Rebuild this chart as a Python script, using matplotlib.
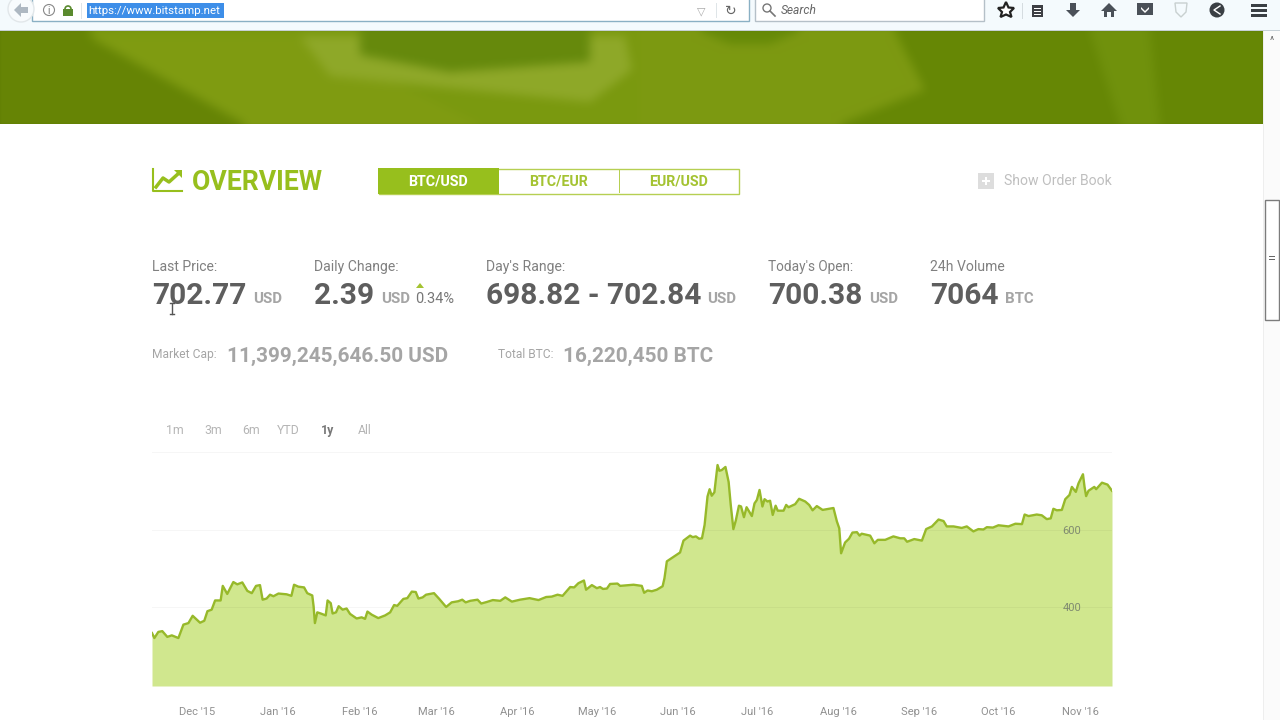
import matplotlib
matplotlib.use('Agg')
import matplotlib.pyplot as plt
import numpy as np
from matplotlib.patches import Rectangle, Polygon, Circle
from matplotlib.path import Path

plt.rcParams['font.family'] = ['Roboto', 'DejaVu Sans']

# days since the left edge of the chart, price in USD
days = [0, 0.9, 2.4, 3.9, 5.8, 7.5, 10, 11.9, 13.8, 15.4, 18.2, 19.8, 21, 22.6, 23.9, 26, 26.8, 28.5,
        30.8, 32.3, 34.2, 36.1, 37.8, 39.4, 40.9, 41.9, 43.4, 44.7, 46, 47.9, 51, 52.8, 53.8, 55.4,
        57.6, 58.8, 60.7, 61.2, 61.7, 62.6, 63.9, 65.8, 66.5, 67.7, 68.4, 69.7, 70.7, 72.2, 73.7, 75,
        77.5, 79.4, 80.7, 81.6, 83.2, 85.7, 88.3, 90.2, 91.7, 92.9, 95.2, 96.7, 98.4, 99.9, 100.9,
        102.5, 103.8, 106.8, 108.8, 111.4, 113.5, 116, 117.5, 118.8, 120.5, 123.3, 124.7, 126.8,
        129.1, 131.9, 133.8, 136.3, 139.4, 143, 146.4, 149.3, 151.4, 153.6, 155.5, 158.4, 159.9,
        161.5, 163.6, 164.4, 166.6, 168.5, 169.7, 170.8, 172.3, 173.5, 176.3, 177.3, 182.4, 185.5,
        186.4, 187.7, 189.3, 191.2, 193.4, 194.1, 195, 196.3, 198.2, 200, 201.3, 203.8, 204.8, 206,
        207.2, 208.3, 209.3, 210.4, 211.2, 212, 213, 214.2, 214.9, 215.8, 217.2, 218.4, 219.2, 220.2,
        221.1, 222.3, 223.1, 224.2, 225.2, 227.2, 228.2, 229.1, 230.1, 231.2, 232, 233.1, 234.1,
        235.1, 236.2, 237, 239.2, 240.2, 241.1, 243.6, 245.1, 247.4, 248.9, 250.2, 251.8, 254, 258.1,
        259.4, 260.3, 261, 262.5, 264, 265.3, 267, 268, 268.8, 272, 273.6, 274.9, 277.7, 280.8, 283.4,
        284.9, 286, 288.7, 291.6, 293.2, 295.4, 297.9, 299.8, 301, 303.6, 306.7, 308.6, 311.1, 313,
        314.9, 316.2, 318.5, 320.6, 324.4, 327, 329.5, 330.5, 332, 335.1, 337, 338.9, 340.4, 341.4,
        342.7, 344.6, 345.9, 347.5, 348.4, 349.9, 350.9, 352.6, 353.2, 353.8, 354.7, 356.9, 357.6,
        359.8, 361.9, 363.6]
prices = [332, 319, 335, 337, 322, 326, 319, 354, 358, 377, 359, 364, 389, 393, 417, 417, 455, 434,
          465, 459, 464, 442, 436, 455, 457, 419, 422, 432, 428, 435, 433, 429, 458, 453,
          451, 436, 430, 402, 358, 386, 383, 378, 417, 410, 383, 386, 402, 393, 396, 382,
          370, 373, 369, 388, 380, 371, 378, 386, 405, 403, 421, 423, 440, 439, 422,
          425, 432, 436, 421, 400, 412, 415, 419, 412, 416, 419, 409, 413,
          418, 416, 425, 414, 419, 423, 418, 426, 427, 432, 429, 452, 451,
          462, 469, 445, 457, 449, 452, 447, 448, 460, 461, 455, 458, 455,
          437, 443, 441, 445, 454, 475, 519, 525, 534, 542, 573, 586, 582, 584,
          578, 579, 614, 688, 707, 690, 699, 770, 755, 757, 765, 726, 666, 603,
          625, 664, 662, 634, 660, 637, 670, 679, 705, 662, 681, 675, 677,
          640, 664, 651, 651, 666, 660, 668, 682, 675, 666, 652, 663, 653, 658,
          623, 605, 540, 568, 578, 594, 595, 586, 591, 586, 566, 575, 575, 584, 579,
          579, 570, 577, 573, 603, 610, 628, 624, 610, 610, 606, 610, 597, 603,
          602, 608, 607, 613, 610, 617, 616, 641, 637, 641, 639, 629, 631, 656,
          652, 653, 681, 692, 713, 700, 722, 746, 713, 689, 703, 713, 707,
          724, 719, 703]
month_days = [17, 47.7, 78.8, 107.6, 138.3, 168.6, 199, 229.2, 260, 290.5, 320.5, 351.5]
month_labels = ["Dec '15", "Jan '16", "Feb '16", "Mar '16", "Apr '16", "May '16", "Jun '16", "Jul '16",
                "Aug '16", "Sep '16", "Oct '16", "Nov '16"]
price_ticks = [400, 600, 804]
price_tick_labels = ['400', '600', '']
ranges = ['1m', '3m', '6m', 'YTD', '1y', 'All']
range_x = [175, 213, 251, 288, 328, 365]
pairs = ['BTC/USD', 'BTC/EUR', 'EUR/USD']
pair_x = [438, 559, 679]

# blurred photo behind the banner: outline in page pixels, then colour
banner_shapes = [
    ([(0, 31), (88, 31), (245, 124), (0, 124)], (0.40, 0.52, 0.02)),
    ([(88, 36), (300, 36), (480, 124), (245, 124)], (0.50, 0.61, 0.07)),
    ([(300, 36), (625, 36), (632, 70), (590, 102), (330, 76)], (0.56, 0.66, 0.16)),
    ([(360, 31), (590, 31), (590, 62), (450, 72), (360, 55)], (0.40, 0.54, 0.05)),
    ([(640, 31), (890, 31), (925, 90), (840, 124), (640, 124)], (0.49, 0.60, 0.07)),
    ([(700, 31), (800, 31), (770, 44), (730, 44)], (0.40, 0.54, 0.03)),
    ([(895, 31), (1263, 31), (1263, 124), (840, 124), (925, 90)], (0.40, 0.53, 0.02)),
    ([(1090, 31), (1150, 31), (1160, 124), (1120, 124)], (0.44, 0.57, 0.05)),
]

GREEN = '#97bf1d'
fig = plt.figure(figsize=(12.8, 7.2), dpi=100)

# the page around the chart, in screen pixels
page = fig.add_axes([0, 0, 1, 1], zorder=1)


def banner_image():
    yy, xx = np.mgrid[31:124, 0:1263]
    pts = np.column_stack([xx.ravel() + 0.5, yy.ravel() + 0.5])
    img = np.ones((93, 1263, 3)) * (0.48, 0.60, 0.06)
    for outline, colour in banner_shapes:
        img[Path(outline).contains_points(pts).reshape(93, 1263)] = colour
    # box blur along both directions
    kernel = np.ones(11) / 11
    pad = np.pad(img, ((8, 8), (8, 8), (0, 0)), mode='edge')
    for _ in range(2):
        pad = np.apply_along_axis(lambda v: np.convolve(v, kernel, mode='same'), 1, pad)
        pad = np.apply_along_axis(lambda v: np.convolve(v, kernel, mode='same'), 0, pad)
    return pad[8:-8, 8:-8]


page.imshow(banner_image(), extent=(0, 1263, 124, 31), aspect='auto', zorder=0)
page.set_xlim(0, 1280)
page.set_ylim(720, 0)
page.axis('off')


def box(x, y, w, h, fc, ec='none', lw=0, z=1):
    page.add_patch(Rectangle((x, y), w, h, fc=fc, ec=ec, lw=lw, zorder=z))


def poly(points, fc, ec='none', lw=0, z=3):
    page.add_patch(Polygon(points, fc=fc, ec=ec, lw=lw, zorder=z))


def label(x, y, s, size, color, weight='normal', ha='left', style='normal'):
    page.text(x, y, s, fontsize=size * 0.72, color=color, fontweight=weight, ha=ha, va='baseline',
              fontstyle=style, zorder=5)


# browser bar
box(0, 0, 1280, 31, '#f4fafd')
box(0, 30, 1280, 1, '#c6d0d6')
box(32, -2, 717, 23, 'white', '#8ab0c4', 1)
page.add_patch(Circle((21, 9), 13, fc='#f8fbfd', ec='#e2e7ea', lw=1, zorder=2))
poly([(14, 10), (21, 3), (21, 7), (28, 7), (28, 13), (21, 13), (21, 17)], '#aeb8c2')
page.add_patch(Circle((49, 10), 5.5, fc='none', ec='#888888', lw=0.8, zorder=3))
label(49, 14, 'i', 10, '#777777', ha='center')
box(63, 9, 10, 7, '#5a8a2e', z=2)
page.add_patch(Circle((68, 9), 3, fc='none', ec='#5a8a2e', lw=1.2, zorder=2))
box(81, 3, 1, 16, '#dfe5e8', z=2)
box(87, 3, 137, 15, '#3d8ee8', z=2)
label(88, 14, 'https://www.bitstamp.net', 11.5, 'white')
label(701, 14, '\u25bd', 11, '#a8a8a8', ha='center')
box(716, 3, 1, 15, '#dfe5e8', z=2)
label(731, 15, '\u21bb', 14, '#666666', ha='center')
box(755, -2, 229, 23, 'white', '#b5c0c8', 1)
page.add_patch(Circle((767, 8), 4, fc='none', ec='#777777', lw=1, zorder=3))
page.plot([770, 775], [11, 16], color='#777777', lw=1.2, zorder=3)
label(781, 14, 'Search', 12, '#666666', style='italic')
poly([(1006, 2), (1008.5, 7.5), (1014, 8), (1010, 12), (1011.5, 17), (1006, 14.5), (1000.5, 17), (1002, 12),
      (998, 8), (1003.5, 7.5)], 'white', '#222222', 1.6)
box(1022, 3, 1, 16, '#d5dce0', z=2)
box(1032, 5, 11, 12, '#3d3f44', z=2)
box(1034, 8, 7, 1, 'white', z=3)
box(1034, 11, 7, 1, 'white', z=3)
box(1034, 14, 7, 1, 'white', z=3)
poly([(1070, 3), (1076, 3), (1076, 10), (1080, 10), (1073, 17), (1066, 10), (1070, 10)], '#4a5058')
poly([(1109, 3), (1117, 11), (1114, 11), (1114, 17), (1111, 17), (1111, 12), (1107, 12), (1107, 17), (1104, 17),
      (1104, 11), (1101, 11)], '#4a5058')
box(1137, 3, 16, 12, '#4a5058', z=2)
poly([(1141, 7), (1145, 11), (1149, 7), (1149, 9), (1145, 13), (1141, 9)], 'white')
poly([(1175, 3), (1187, 3), (1186, 12), (1181, 17), (1176, 12)], 'none', '#c8d0d0', 1)
page.add_patch(Circle((1217, 10), 7.5, fc='#3a3f44', zorder=2))
page.plot([1220, 1214, 1220], [6, 10, 14], color='white', lw=1, zorder=3)
box(1251, 4, 16, 2.5, '#3a3f44', z=2)
box(1251, 9, 16, 2.5, '#3a3f44', z=2)
box(1251, 14, 16, 2.5, '#3a3f44', z=2)

# scrollbar
box(1263, 31, 17, 689, '#fbfbfb')
box(1263, 31, 1, 689, '#eeeeee')
box(1265, 200, 14, 120, 'white', '#7c7c7c', 1, z=2)
label(1272, 44, '^', 10, '#666666', ha='center')
box(1269, 256, 6, 1, '#666666', z=3)
box(1269, 259, 6, 1, '#666666', z=3)

# heading
page.plot([153, 153, 182], [169, 191, 191], color=GREEN, lw=1.5, zorder=3)
page.plot([156, 163, 169, 179], [187, 178, 182, 173], color=GREEN, lw=2.5, zorder=3)
poly([(174, 170), (182, 170), (182, 178)], GREEN)
label(192, 190, 'OVERVIEW', 26.6, GREEN, 'bold')

box(378.5, 168.5, 360, 25, 'white', '#b6cf52', 1)
box(378, 168, 121, 26, GREEN, z=2)
box(619, 169, 1, 24, '#b6cf52', z=2)
for name, x in zip(pairs, pair_x):
    label(x, 186, name, 14.3, 'white' if name == 'BTC/USD' else '#a4c332', 'bold', 'center')

box(978, 173, 16, 16, '#dddddd', z=2)
box(982, 180, 8, 2, 'white', z=3)
box(985, 177, 2, 8, 'white', z=3)
label(1004, 185, 'Show Order Book', 14, '#bfbfbf')

# price block
label(152, 271, 'Last Price:', 14, '#808080')
label(314, 271, "Daily Change:", 14, '#808080')
label(486, 271, "Day's Range:", 14, '#808080')
label(768, 271, "Today's Open:", 13.6, '#808080')
label(930, 271, '24h Volume', 14, '#808080')
label(152, 304, '702.77', 29.9, '#5e5e5e', 'bold')
label(253, 303, 'USD', 15, '#a5a5a5', 'bold')
label(314, 304, '2.39', 29.9, '#5e5e5e', 'bold')
label(381, 303, 'USD', 15, '#a5a5a5', 'bold')
poly([(416, 288), (424, 288), (420, 283)], '#a4c332')
label(415, 303, '0.34%', 14.5, '#777777')
label(486, 304, '698.82 - 702.84', 29.9, '#5e5e5e', 'bold')
label(707, 303, 'USD', 15, '#a5a5a5', 'bold')
label(768, 304, '700.38', 29.9, '#5e5e5e', 'bold')
label(869, 303, 'USD', 15, '#a5a5a5', 'bold')
label(930, 304, '7064', 29.9, '#5e5e5e', 'bold')
label(1005, 303, 'BTC', 15, '#a5a5a5', 'bold')
label(152, 358, 'Market Cap:', 12, '#a5a5a5')
label(227, 362, '11,399,245,646.50 USD', 20.8, '#a5a5a5', 'bold')
label(498, 358, 'Total BTC:', 12, '#a5a5a5')
label(563, 362, '16,220,450 BTC', 20.8, '#a5a5a5', 'bold')

# text cursor
page.plot([172, 172], [303, 314], color='#555555', lw=1, zorder=6)
page.plot([170, 174], [303, 303], color='#555555', lw=1, zorder=6)
page.plot([170, 174], [314, 314], color='#555555', lw=1, zorder=6)

for name, x in zip(ranges, range_x):
    label(x, 434, name, 12.3, '#777777' if name == '1y' else '#b5b5b5',
          'bold' if name == '1y' else 'normal', 'center')

# price chart
ax = fig.add_axes([152 / 1280, 1 - 686 / 720, 960 / 1280, 234 / 720], zorder=2)
ax.patch.set_alpha(0)
ax.fill_between(days, prices, 194, color='#d0e78e', lw=0, zorder=1)
ax.plot(days, prices, color='#97b92a', lw=1.7, zorder=2, solid_joinstyle='round')
ax.set_xlim(0, 363.6)
ax.set_ylim(194, 804)
ax.set_xticks(month_days, month_labels)
ax.set_yticks(price_ticks, price_tick_labels)
ax.yaxis.tick_right()
ax.tick_params(axis='x', length=0, pad=15, labelsize=8, labelcolor='#909090')
ax.tick_params(axis='y', length=0, pad=-35.5, labelsize=8, labelcolor='#7f8a70')
ax.grid(axis='y', color='black', alpha=0.035, lw=0.8)
for side in ['top', 'left', 'right', 'bottom']:
    ax.spines[side].set_visible(False)

fig.savefig('out.png', dpi=100)
